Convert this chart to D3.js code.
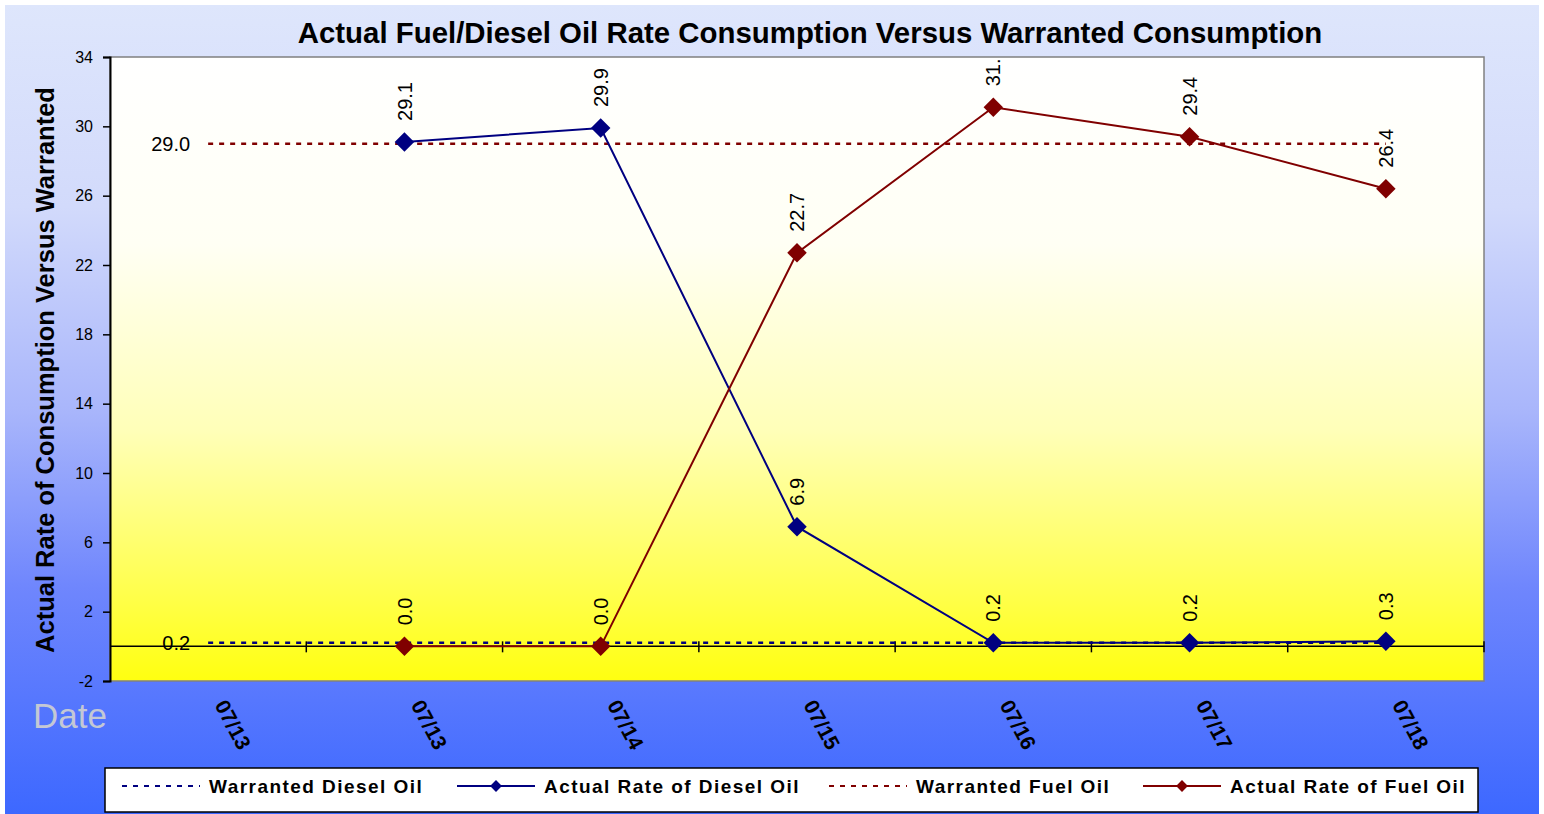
<!DOCTYPE html>
<meta charset="utf-8">
<head>
  <title>Fuel / diesel consumption</title>
</head>

<style>
body {
  margin: 0;
  background: #fff;
  font-family: Arial, "Liberation Sans", sans-serif;
}
text { font-family: Arial, "Liberation Sans", sans-serif; }
</style>

<body>
  <div id="chart"></div>

  <script src="https://cdnjs.cloudflare.com/ajax/libs/d3/7.8.5/d3.min.js"></script>

  <script>
// data
var dates = ['07/13', '07/13', '07/14', '07/15', '07/16', '07/17', '07/18'];
var warrantedDiesel = [0.2, 0.2, 0.2, 0.2, 0.2, 0.2, 0.2];
var actualDiesel = [null, 29.1, 29.9, 6.9, 0.2, 0.2, 0.3];
var warrantedFuel = [29.0, 29.0, 29.0, 29.0, 29.0, 29.0, 29.0];
var actualFuel = [null, 0.0, 0.0, 22.7, 31.1, 29.4, 26.4];
var yTicks = [-2, 2, 6, 10, 14, 18, 22, 26, 30, 34];

var W = 1544, H = 814;
// plot box (don't call these top/left: window.top is read-only)
var plotL = 110, plotR = 1484, plotT = 57, plotB = 681;
var navy = '#000080', maroon = '#800000';

var svg = d3.select('#chart').append('svg')
  .attr('width', W)
  .attr('height', H);

var defs = svg.append('defs');

var bg = defs.append('linearGradient').attr('id', 'bg')
  .attr('x1', 0).attr('y1', 0).attr('x2', 0).attr('y2', 1);
bg.append('stop').attr('offset', 0).attr('stop-color', '#dee6fc');
bg.append('stop').attr('offset', 0.25).attr('stop-color', '#d2dafb');
bg.append('stop').attr('offset', 0.5).attr('stop-color', '#a9b6fb');
bg.append('stop').attr('offset', 0.72).attr('stop-color', '#6f86fd');
bg.append('stop').attr('offset', 1).attr('stop-color', '#3d68ff');

var pf = defs.append('linearGradient').attr('id', 'plotfill')
  .attr('x1', 0).attr('y1', 0).attr('x2', 0).attr('y2', 1);
pf.append('stop').attr('offset', 0).attr('stop-color', '#ffffff');
pf.append('stop').attr('offset', 0.3).attr('stop-color', '#fffff4');
pf.append('stop').attr('offset', 0.6).attr('stop-color', '#ffffb8');
pf.append('stop').attr('offset', 0.85).attr('stop-color', '#ffff50');
pf.append('stop').attr('offset', 1).attr('stop-color', '#ffff10');

defs.append('clipPath').attr('id', 'plotclip')
  .append('rect')
  .attr('x', plotL).attr('y', plotT)
  .attr('width', plotR - plotL).attr('height', plotB - plotT);

// chart background
svg.append('rect')
  .attr('x', 5).attr('y', 5)
  .attr('width', W - 10).attr('height', H - 5)
  .attr('fill', 'url(#bg)');

// scales
var x = d3.scaleBand()
  .domain(d3.range(dates.length))
  .range([plotL, plotR]);
var y = d3.scaleLinear()
  .domain([-2, 34])
  .range([plotB, plotT]);

function cx(i) { return x(i) + x.bandwidth() / 2; }

// plot area
svg.append('rect')
  .attr('x', plotL).attr('y', plotT)
  .attr('width', plotR - plotL).attr('height', plotB - plotT)
  .attr('fill', 'url(#plotfill)')
  .attr('stroke', '#808080')
  .attr('stroke-width', 1.5);

// y axis
var yAxis = svg.append('g')
  .attr('transform', 'translate(' + plotL + ',0)')
  .call(d3.axisLeft(y).tickValues(yTicks).tickFormat(String).tickSize(7).tickPadding(10));
yAxis.select('.domain').attr('stroke', '#000').attr('stroke-width', 2);
yAxis.selectAll('.tick line').attr('stroke', '#000').attr('stroke-width', 1.5);
yAxis.selectAll('.tick text')
  .style('font-size', '16px')
  .style('font-family', 'Arial, "Liberation Sans", sans-serif')
  .attr('fill', '#000');

// category axis across zero
var xAxis = svg.append('g')
  .attr('transform', 'translate(0,' + y(0) + ')');
xAxis.append('line')
  .attr('x1', plotL).attr('x2', plotR)
  .attr('stroke', '#000').attr('stroke-width', 1.5);
xAxis.selectAll('line.tk')
  .data(d3.range(1, dates.length + 1))
  .join('line')
  .attr('class', 'tk')
  .attr('x1', function(i) { return plotL + i * x.step(); })
  .attr('x2', function(i) { return plotL + i * x.step(); })
  .attr('y1', -5).attr('y2', 6)
  .attr('stroke', '#000').attr('stroke-width', 1.5);

// rotated date labels
svg.append('g').selectAll('text')
  .data(dates)
  .join('text')
  .attr('transform', function(d, i) {
    return 'translate(' + (cx(i) + 6) + ',' + 705 + ') rotate(62)';
  })
  .attr('font-size', 21)
  .attr('font-weight', 'bold')
  .attr('fill', '#000')
  .text(function(d) { return d; });

// series
var line = d3.line()
  .defined(function(d) { return d != null; })
  .x(function(d, i) { return cx(i); })
  .y(function(d) { return y(d); });

var plot = svg.append('g');

plot.append('path')
  .datum(warrantedFuel)
  .attr('d', line)
  .attr('fill', 'none')
  .attr('stroke', maroon)
  .attr('stroke-width', 2.5)
  .attr('stroke-dasharray', '5,6');

plot.append('path')
  .datum(warrantedDiesel)
  .attr('d', line)
  .attr('fill', 'none')
  .attr('stroke', navy)
  .attr('stroke-width', 2.5)
  .attr('stroke-dasharray', '5,6');

plot.append('path')
  .datum(actualDiesel)
  .attr('d', line)
  .attr('fill', 'none')
  .attr('stroke', navy)
  .attr('stroke-width', 2);

plot.append('path')
  .datum(actualFuel)
  .attr('d', line)
  .attr('fill', 'none')
  .attr('stroke', maroon)
  .attr('stroke-width', 2);

var diamond = d3.symbol().type(d3.symbolSquare).size(190);

function markers(data, color) {
  plot.append('g').selectAll('path')
    .data(data.map(function(v, i) { return {v: v, i: i}; })
      .filter(function(d) { return d.v != null; }))
    .join('path')
    .attr('d', diamond)
    .attr('transform', function(d) {
      return 'translate(' + cx(d.i) + ',' + y(d.v) + ') rotate(45)';
    })
    .attr('fill', color);
}
markers(actualDiesel, navy);
markers(actualFuel, maroon);

// value labels (rotated, above points)
var labels = svg.append('g').attr('clip-path', 'url(#plotclip)');
function valueLabels(data) {
  labels.append('g').selectAll('text')
    .data(data.map(function(v, i) { return {v: v, i: i}; })
      .filter(function(d) { return d.v != null; }))
    .join('text')
    .attr('transform', function(d) {
      return 'translate(' + cx(d.i) + ',' + (y(d.v) - 21) + ') rotate(-90)';
    })
    .attr('dy', '0.36em')
    .attr('font-size', 20)
    .attr('fill', '#000')
    .text(function(d) { return d.v.toFixed(1); });
}
valueLabels(actualDiesel);
valueLabels(actualFuel);

// warranted labels on first point, to the left
[warrantedFuel, warrantedDiesel].forEach(function(s) {
  svg.append('text')
    .attr('x', cx(0) - 18)
    .attr('y', y(s[0]))
    .attr('dy', '0.36em')
    .attr('text-anchor', 'end')
    .attr('font-size', 20)
    .attr('fill', '#000')
    .text(s[0].toFixed(1));
});

// titles
svg.append('text')
  .attr('x', 810).attr('y', 43)
  .attr('text-anchor', 'middle')
  .attr('font-size', 29.4)
  .attr('font-weight', 'bold')
  .attr('fill', '#000')
  .text('Actual Fuel/Diesel Oil Rate Consumption Versus Warranted Consumption');

svg.append('text')
  .attr('transform', 'translate(54,370) rotate(-90)')
  .attr('text-anchor', 'middle')
  .attr('font-size', 25.5)
  .attr('font-weight', 'bold')
  .attr('fill', '#000')
  .text('Actual Rate of Consumption Versus Warranted');

svg.append('text')
  .attr('x', 33).attr('y', 728)
  .attr('font-size', 35)
  .attr('fill', '#c4c8d4')
  .text('Date');

// legend
var legendItems = [
  {name: 'Warranted Diesel Oil', color: navy, dash: true, x: 122},
  {name: 'Actual Rate of Diesel Oil', color: navy, dash: false, x: 457},
  {name: 'Warranted Fuel Oil', color: maroon, dash: true, x: 829},
  {name: 'Actual Rate of Fuel Oil', color: maroon, dash: false, x: 1143}
];

var legend = svg.append('g');
legend.append('rect')
  .attr('x', 105).attr('y', 768)
  .attr('width', 1373).attr('height', 44)
  .attr('fill', '#fff')
  .attr('stroke', '#000')
  .attr('stroke-width', 1.5);

var li = legend.selectAll('g.item')
  .data(legendItems)
  .join('g')
  .attr('class', 'item')
  .attr('transform', function(d) { return 'translate(' + d.x + ',786)'; });

li.append('line')
  .attr('x1', 0).attr('x2', 78)
  .attr('stroke', function(d) { return d.color; })
  .attr('stroke-width', 2)
  .attr('stroke-dasharray', function(d) { return d.dash ? '5,6' : null; });

li.filter(function(d) { return !d.dash; })
  .append('path')
  .attr('d', d3.symbol().type(d3.symbolSquare).size(70))
  .attr('transform', 'translate(39,0) rotate(45)')
  .attr('fill', function(d) { return d.color; });

li.append('text')
  .attr('x', 87)
  .attr('dy', '0.36em')
  .attr('font-size', 19)
  .attr('font-weight', 'bold')
  .attr('letter-spacing', 1.45)
  .attr('fill', '#000')
  .text(function(d) { return d.name; });
  </script>
</body>
</html>
